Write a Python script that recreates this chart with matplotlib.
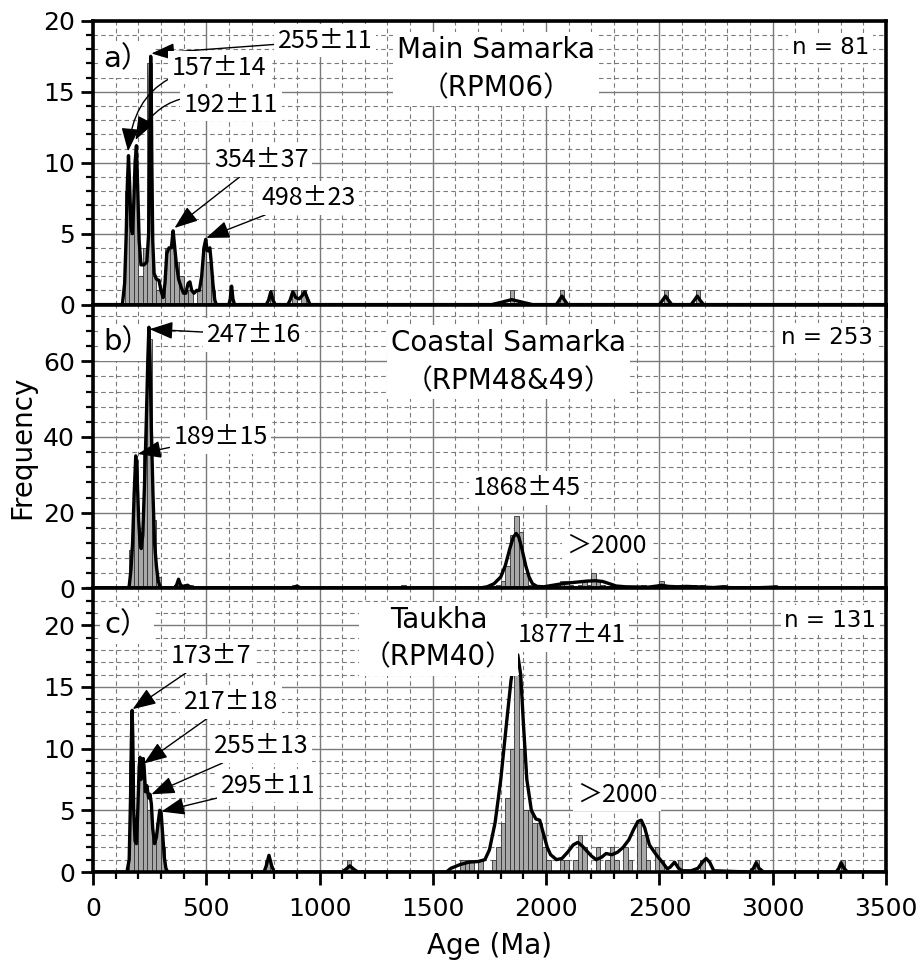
#!/usr/bin/env python3
"""
Detrital zircon age spectra for three Samarka / Taukha samples.

Three stacked panels sharing the age axis: histogram (20 Ma bins) plus
the probability density curve, with the main peaks labelled.

Usage:
    python plot.py
"""

import matplotlib
matplotlib.use("Agg")
import matplotlib.pyplot as plt
from matplotlib.ticker import MultipleLocator

# wide latin face, CJK font picks up the full-width brackets / ＞
plt.rcParams['font.family'] = ['DejaVu Sans', 'Noto Sans CJK JP']
PEAK_FONT = ['Noto Sans CJK JP', 'DejaVu Sans']   # wide ± like the original

BIN_WIDTH = 20

# --- a) Main Samarka (RPM06), n = 81 ---
a_bins = [140, 160, 180, 200, 220, 240, 260, 280, 300, 320, 340, 360, 380, 400,
          420, 460, 480, 500, 520, 600, 780, 880, 920, 1840, 2060, 2520, 2660]
a_counts = [8, 5, 9, 2, 4, 17, 2, 1, 1, 4, 4, 3, 2, 1,
            1, 1, 4, 3, 1, 1, 1, 1, 1, 1, 1, 1, 1]
a_curve_age = [0, 130, 140, 147, 152, 157, 162, 168, 174, 180, 186, 192, 198, 204,
               212, 225, 238, 246, 250, 253, 255, 257, 260, 264, 270, 280, 292,
               300, 310, 318, 326, 336, 346, 354, 360, 368, 378, 390, 400, 410,
               420, 428, 436, 446, 458, 470, 480, 490, 498, 504, 510, 516, 522,
               530, 538, 545, 600, 606, 612, 618, 625, 765, 775, 785, 795, 805,
               860, 870, 882, 895, 910, 922, 935, 945, 958, 1760, 1800, 1848,
               1900, 1940, 2045, 2058, 2070, 2082, 2095, 2500, 2514, 2527, 2540,
               2555, 2640, 2654, 2667, 2680, 2695, 3500]
a_curve_freq = [0, 0, 1.5, 5, 8.5, 10.5, 8.5, 5.5, 5.0, 7, 10, 11.2, 8, 4.5,
                2.8, 2.8, 3.0, 5, 10, 16, 17.5, 16, 10, 4.5, 2.2, 1.8, 1.7,
                1.0, 0.5, 1.5, 3.6, 4.0, 4.0, 5.2, 4.2, 2.9, 1.8, 1.2, 0.8, 0.8,
                1.5, 1.6, 1.0, 0.8, 1.0, 1.0, 2.0, 4.0, 4.6, 3.8, 3.8, 4.0, 3.0,
                1.4, 0.3, 0, 0, 0.4, 1.3, 0.4, 0, 0, 0.3, 0.9, 0.3, 0,
                0, 0.3, 0.9, 0.5, 0.4, 0.6, 0.9, 0.5, 0, 0, 0.15, 0.35,
                0.15, 0, 0, 0.3, 0.6, 0.3, 0, 0, 0.3, 0.6, 0.3,
                0, 0, 0.3, 0.6, 0.3, 0, 0]
a_labels = ['255±11', '157±14', '192±11', '354±37', '498±23']
a_label_xy = [(1024, 18.6), (557, 16.7), (608, 14.1), (744, 10.2), (950, 7.5)]
a_arrow_tip = [(258, 17.7), (155, 10.8), (188, 11.6), (360, 5.4), (500, 4.7)]
a_arrow_rad = [0, 0.45, 0.45, 0, 0]

# --- b) Coastal Samarka (RPM48&49), n = 253 ---
b_bins = [160, 180, 200, 220, 240, 260, 280, 360, 380, 420, 880, 1360,
          1780, 1800, 1820, 1840, 1860, 1880, 1900, 1920,
          2000, 2060, 2080, 2100, 2140, 2160, 2180, 2200, 2220, 2240, 2320,
          2420, 2480, 2500, 2600, 2640, 2680, 2780, 3000]
b_counts = [10, 34, 12, 36, 66, 18, 3, 1, 1, 1, 1, 1,
            1, 2, 6, 14, 19, 15, 4, 1,
            1, 2, 2, 1, 1, 2, 1, 4, 2, 1, 1,
            1, 1, 2, 1, 1, 1, 1, 1]
b_curve_age = [0, 150, 160, 168, 175, 182, 189, 195, 202, 208, 213, 220, 228, 236,
               242, 247, 252, 258, 265, 272, 280, 288, 296, 305, 360, 370, 378,
               386, 395, 405, 418, 428, 440, 880, 890, 900, 910, 920, 1700, 1740,
               1770, 1800, 1820, 1840, 1855, 1868, 1880, 1895, 1910, 1925, 1940,
               1960, 1990, 2030, 2080, 2130, 2180, 2220, 2250, 2280, 2310, 2350,
               2400, 2450, 2490, 2510, 2540, 2580, 2620, 2660, 2700, 2740, 2780,
               2800, 2850, 2900, 2960, 3000, 3040, 3080, 3500]
b_curve_freq = [0, 0, 0.5, 5, 12, 25, 35, 30, 18, 12, 10.5, 14, 28, 45,
                60, 69, 60, 42, 25, 12, 6, 2, 0.5, 0, 0, 1, 2.4,
                1.0, 0.5, 0.6, 0.8, 0.4, 0, 0, 0.3, 0.6, 0.3, 0, 0, 0.4,
                1.2, 3, 6, 10.5, 13.5, 14.5, 13.5, 10, 6, 3, 1.2,
                0.5, 0.4, 0.8, 1.3, 1.6, 1.9, 2.0, 1.8, 1.2, 0.6, 0.4,
                0.35, 0.3, 0.6, 0.8, 0.5, 0.4, 0.5, 0.4, 0.3, 0.2, 0.4,
                0.2, 0.1, 0.1, 0.2, 0.3, 0.1, 0, 0]
b_labels = ['247±16', '189±15', '1868±45', '＞2000']
b_label_xy = [(711, 67), (563, 40), (1914, 26.5), (2265, 11.2)]
b_arrow_tip = [(250, 68.5), (198, 35.5), None, None]
b_arrow_rad = [0, 0, 0, 0]

# --- c) Taukha (RPM40), n = 131 ---
c_bins = [160, 180, 200, 220, 240, 260, 280, 300, 760, 1120,
          1620, 1640, 1660, 1700, 1760, 1780, 1800, 1820, 1840, 1860, 1880,
          1900, 1920, 1940, 1960, 1980, 2000, 2060, 2080, 2120, 2140, 2160,
          2220, 2260, 2280, 2300, 2340, 2360, 2400, 2420, 2440, 2480, 2500,
          2580, 2680, 2920, 3300]
c_counts = [9, 3, 8, 7, 5, 3, 4, 2, 1, 1,
            1, 1, 1, 1, 1, 2, 4, 6, 10, 16, 10,
            5, 5, 4, 4, 2, 1, 1, 1, 1, 3, 2,
            2, 1, 2, 1, 2, 1, 4, 3, 1, 2, 1,
            1, 1, 1, 1]
c_curve_age = [0, 150, 160, 166, 170, 173, 176, 180, 186, 192, 198, 204, 208, 212,
               217, 222, 226, 232, 238, 246, 252, 258, 264, 272, 280, 288, 295,
               301, 308, 315, 322, 330, 755, 765, 777, 789, 800, 1100, 1115, 1134,
               1153, 1170, 1560, 1580, 1620, 1660, 1700, 1730, 1750, 1775, 1800,
               1825, 1845, 1860, 1875, 1888, 1900, 1915, 1935, 1955, 1972, 1990,
               2005, 2020, 2046, 2070, 2095, 2120, 2140, 2160, 2180, 2200, 2221,
               2245, 2265, 2290, 2315, 2340, 2365, 2385, 2405, 2420, 2435, 2456,
               2486, 2515, 2535, 2548, 2567, 2585, 2600, 2640, 2670, 2690, 2706,
               2722, 2740, 2900, 2915, 2927, 2940, 2960, 3280, 3292, 3302, 3315,
               3330, 3500]
c_curve_freq = [0, 0, 1, 6, 11, 13.1, 11, 5, 2.5, 2.3, 5, 8.5, 9.3, 7.5,
                8, 9.2, 8.5, 6.5, 7, 6, 6.3, 5.5, 3.5, 2.3, 2.8, 4, 5,
                4.8, 3.0, 1.2, 0.3, 0, 0, 0.5, 1.35, 0.5, 0, 0, 0.2, 0.5,
                0.2, 0, 0, 0.3, 0.6, 0.8, 0.85, 1.0, 1.8, 4.0, 7.5,
                12, 15.5, 17.2, 17.6, 16, 12, 7.5, 5, 4.3, 4.2, 3.0,
                2.0, 1.4, 1.0, 1.1, 1.6, 2.2, 2.4, 2.1, 1.7, 1.3, 1.0,
                1.2, 1.5, 1.4, 1.6, 2.0, 2.6, 3.4, 4.1, 4.2, 3.6, 2.2,
                1.4, 0.75, 0.25, 0.4, 0.8, 0.3, 0.1, 0.1, 0.3, 0.8, 1.1,
                0.8, 0.1, 0, 0.3, 0.75, 0.3, 0, 0, 0.3, 0.75, 0.3,
                0, 0]
c_labels = ['173±7', '217±18', '255±13', '295±11', '1877±41', '＞2000']
c_label_xy = [(520, 17.5), (608, 13.8), (741, 10.2), (774, 7.0), (2112, 19.2), (2315, 6.3)]
c_arrow_tip = [(175, 13.2), (225, 8.8), (258, 6.3), (302, 4.9), None, None]
c_arrow_rad = [0, 0, 0, 0, 0, 0]

panel_tags = ['a）', 'b）', 'c）']
panel_titles = ['Main Samarka\n（RPM06）', 'Coastal Samarka\n（RPM48&49）', 'Taukha\n（RPM40）']
panel_n = ['n = 81', 'n = 253', 'n = 131']
panel_ylim = [20, 75, 23]
panel_ymajor = [5, 20, 5]
panel_yminor = [1, 4, 1]
# text anchor positions (data coords) for tag / title / n
panel_tag_xy = [(150, 17.3), (150, 65), (150, 20.0)]
panel_title_xy = [(1780, 16.6), (1835, 59.8), (1525, 18.9)]
panel_n_xy = [(3255, 18.1), (3240, 66.2), (3255, 20.4)]

BOX = dict(boxstyle='square,pad=0.15', fc='white', ec='none')


def draw_panel(ax, bins, counts, curve_age, curve_freq,
               labels, label_xy, tips, rads, idx):
    """Histogram + density curve + labels for one sample."""
    ax.set_axisbelow(True)
    ax.bar(bins, counts, width=BIN_WIDTH, align='edge',
           color='#a8a8a8', edgecolor='#333333', linewidth=0.6, zorder=2)
    ax.plot(curve_age, curve_freq, color='black', lw=2.4, zorder=3,
            solid_joinstyle='round')

    ax.set_xlim(0, 3500)
    ax.set_ylim(0, panel_ylim[idx])
    ax.xaxis.set_major_locator(MultipleLocator(500))
    ax.xaxis.set_minor_locator(MultipleLocator(100))
    ax.yaxis.set_major_locator(MultipleLocator(panel_ymajor[idx]))
    ax.yaxis.set_minor_locator(MultipleLocator(panel_yminor[idx]))

    ax.grid(which='major', color='#7a7a7a', lw=1.0, ls='-', zorder=0)
    ax.grid(which='minor', color='#7a7a7a', lw=0.8, ls=(0, (4, 3)), zorder=0)

    for side in ax.spines.values():
        side.set_linewidth(2.6)
        side.set_zorder(5)
    ax.tick_params(which='major', direction='out', length=9, width=2,
                   labelsize=18, pad=4)
    ax.tick_params(axis='x', which='major', pad=9)
    ax.tick_params(which='minor', direction='out', length=5, width=1.6)

    for text, xy, tip, rad in zip(labels, label_xy, tips, rads):
        if tip is None:
            ax.text(xy[0], xy[1], text, fontsize=18, family=PEAK_FONT,
                    ha='center', va='center', bbox=BOX, zorder=6)
            continue
        ax.annotate(text, xy=tip, xytext=xy, fontsize=18, family=PEAK_FONT,
                    ha='center', va='center', bbox=BOX, zorder=6,
                    arrowprops=dict(arrowstyle='-|>,head_length=0.8,head_width=0.3',
                                    color='black', lw=1.0, shrinkA=0, shrinkB=0,
                                    connectionstyle='arc3,rad=%s' % rad))

    # tag box only masks the grid, bars and curve stay on top
    ax.text(*panel_tag_xy[idx], panel_tags[idx], fontsize=21, ha='center',
            va='center', bbox=BOX, zorder=1.5)
    ax.text(*panel_title_xy[idx], panel_titles[idx], fontsize=20, ha='center',
            va='center', linespacing=1.45, bbox=BOX, zorder=6)
    ax.text(*panel_n_xy[idx], panel_n[idx], fontsize=16.5, ha='center',
            va='center', bbox=BOX, zorder=6)


def main():
    fig = plt.figure(figsize=(9.2, 9.66), dpi=100)
    left, width, height = 0.101, 0.862, 0.2937
    bottoms = [0.6847, 0.391, 0.0973]
    axes = [fig.add_axes([left, b, width, height]) for b in bottoms]

    draw_panel(axes[0], a_bins, a_counts, a_curve_age, a_curve_freq,
               a_labels, a_label_xy, a_arrow_tip, a_arrow_rad, 0)
    draw_panel(axes[1], b_bins, b_counts, b_curve_age, b_curve_freq,
               b_labels, b_label_xy, b_arrow_tip, b_arrow_rad, 1)
    draw_panel(axes[2], c_bins, c_counts, c_curve_age, c_curve_freq,
               c_labels, c_label_xy, c_arrow_tip, c_arrow_rad, 2)

    for ax in axes[:2]:
        ax.tick_params(axis='x', labelbottom=False)

    axes[2].set_xlabel('Age (Ma)', fontsize=20, labelpad=8)
    fig.text(0.024, 0.537, 'Frequency', rotation=90, fontsize=20,
             ha='center', va='center')

    fig.savefig('out.png', dpi=100)


if __name__ == "__main__":
    main()
